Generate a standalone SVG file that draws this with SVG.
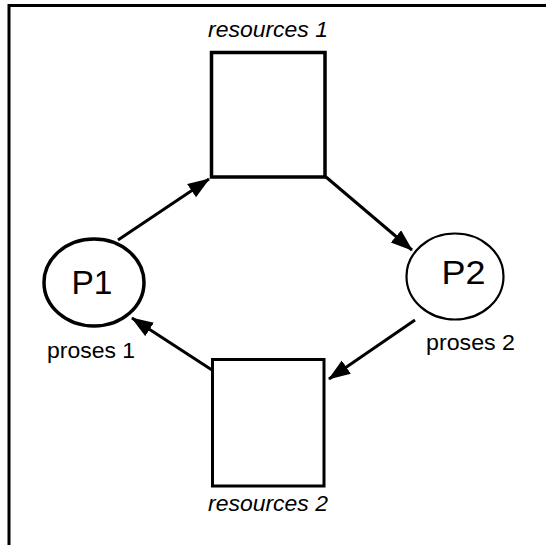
<svg xmlns="http://www.w3.org/2000/svg" width="546" height="545" viewBox="0 0 546 545">
<style>
.node{fill:#fff;stroke:#000}
.lbl{font-family:"Liberation Sans",Arial,sans-serif;fill:#000}
.it{font-style:italic;font-size:22px}
.big{font-size:34px}
.sm{font-size:22px}
.edge{stroke:#000;stroke-width:3;fill:none;marker-end:url(#ah)}
</style>
<defs>
<marker id="ah" markerUnits="userSpaceOnUse" markerWidth="24" markerHeight="18" refX="21" refY="8" orient="auto">
<path d="M0,0 L22,8 L0,16 z" fill="#000"/>
</marker>
</defs>
<rect width="546" height="545" fill="#fff"/>
<g id="frame" stroke="#000" stroke-width="3" fill="none">
<path d="M9,545 V5.5 H546"/>
</g>
<g id="resources1">
<rect class="node" x="211.5" y="52.5" width="113.5" height="124.5" stroke-width="3.5"/>
<text class="lbl it" x="208" y="37" textLength="120" lengthAdjust="spacingAndGlyphs">resources 1</text>
</g>
<g id="resources2">
<rect class="node" x="212.5" y="359.5" width="111.5" height="126.5" stroke-width="3"/>
<text class="lbl it" x="208" y="511" textLength="120" lengthAdjust="spacingAndGlyphs">resources 2</text>
</g>
<g id="p1">
<ellipse class="node" cx="94" cy="282.5" rx="50" ry="43.5" stroke-width="3.5"/>
<text class="lbl big" x="92" y="294" text-anchor="middle" textLength="41" lengthAdjust="spacingAndGlyphs">P1</text>
<text class="lbl sm" x="47" y="358" textLength="88" lengthAdjust="spacingAndGlyphs">proses 1</text>
</g>
<g id="p2">
<ellipse class="node" cx="455" cy="276.5" rx="48.5" ry="43" stroke-width="2.2"/>
<text class="lbl big" x="463.5" y="284" text-anchor="middle" textLength="44" lengthAdjust="spacingAndGlyphs">P2</text>
<text class="lbl sm" x="426" y="350" textLength="89" lengthAdjust="spacingAndGlyphs">proses 2</text>
</g>
<g id="connectors">
<line class="edge" x1="118" y1="240" x2="209" y2="179"/>
<line class="edge" x1="326" y1="177" x2="412" y2="250"/>
<line class="edge" x1="415" y1="320" x2="329" y2="379"/>
<line class="edge" x1="212" y1="370" x2="132" y2="318"/>
</g>
</svg>
